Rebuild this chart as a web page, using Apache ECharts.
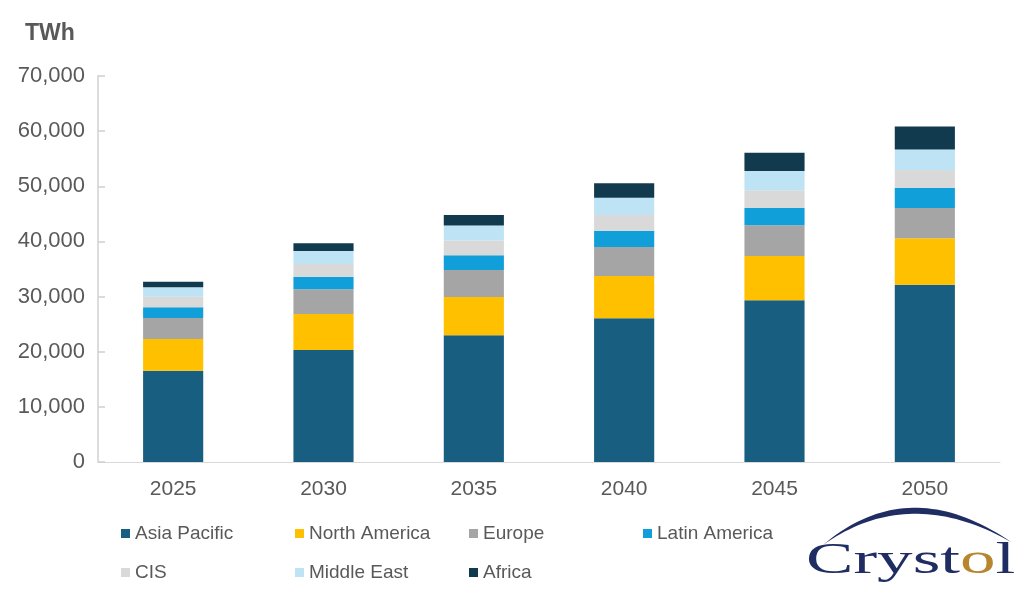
<!DOCTYPE html>
<html>
<head>
<meta charset="utf-8">
<script src="https://cdn.jsdelivr.net/npm/echarts@6/dist/echarts.min.js"></script>
<style>html,body{margin:0;padding:0;background:#fff;}#c{width:1024px;height:596px;}</style>
</head>
<body>
<div id="c"></div>
<script>
var categories = ['2025', '2030', '2035', '2040', '2045', '2050'];
var asiaPacific = [16550, 20300, 22980, 26060, 29330, 32150];
var northAmerica = [5750, 6530, 6950, 7670, 8030, 8410];
var europe = [3810, 4480, 4900, 5260, 5570, 5490];
var latinAmerica = [1945, 2290, 2670, 2960, 3190, 3680];
var cis = [1920, 2300, 2650, 2850, 3160, 3210];
var middleEast = [1700, 2360, 2720, 3140, 3500, 3750];
var africa = [1020, 1400, 1940, 2610, 3320, 4170];
var seriesNames = ['Asia Pacific', 'North America', 'Europe', 'Latin America', 'CIS', 'Middle East', 'Africa'];
var seriesData = [asiaPacific, northAmerica, europe, latinAmerica, cis, middleEast, africa];
var colors = ['#175E80', '#FFC000', '#A5A5A5', '#109FD8', '#D9D9D9', '#BEE3F4', '#113A4F'];
var yTicks = [0, 10000, 20000, 30000, 40000, 50000, 60000, 70000];

var txt = '#595959';
var font = 'Liberation Sans, Arial, sans-serif';

var legendPos = [
  [116, 519], [290, 519], [464, 519], [638, 519],
  [116, 558], [290, 558], [464, 558]
];

// logo crescent outline (quadratic curves)
function quad(p0, c, p1, n) {
  var pts = [];
  for (var i = 0; i <= n; i++) {
    var t = i / n, a = (1 - t) * (1 - t), b = 2 * (1 - t) * t, d = t * t;
    pts.push([a * p0[0] + b * c[0] + d * p1[0], a * p0[1] + b * c[1] + d * p1[1]]);
  }
  return pts;
}
var arcPts = quad([823, 545], [909, 472], [1011, 542], 40)
  .concat(quad([1011, 542], [909, 484], [823, 545], 40));

var chart = echarts.init(document.getElementById('c'));
chart.setOption({
  animation: false,
  color: colors,
  textStyle: { fontFamily: font },
  title: {
    text: 'TWh', left: 20, top: 17,
    textStyle: { fontSize: 23, fontWeight: 'bold', color: txt, fontFamily: font }
  },
  legend: seriesNames.map(function (n, i) {
    return {
      data: [n], left: legendPos[i][0], top: legendPos[i][1],
      icon: 'rect', itemWidth: 9, itemHeight: 9, itemGap: 0,
      textStyle: { fontSize: 19, color: txt, fontFamily: font },
      selectedMode: false
    };
  }),
  grid: { left: 98, right: 24, top: 76, bottom: 134, containLabel: false },
  xAxis: {
    type: 'category', data: categories,
    axisLine: { lineStyle: { color: '#d9d9d9', width: 1 } },
    axisTick: { show: false },
    axisLabel: { fontSize: 21, color: txt, margin: 17, fontFamily: font }
  },
  yAxis: {
    type: 'value', min: yTicks[0], max: yTicks[yTicks.length - 1], interval: yTicks[1] - yTicks[0],
    axisLine: { show: true, lineStyle: { color: '#d0d0d0', width: 1.5 } },
    axisTick: { show: true, inside: true, length: 7, lineStyle: { color: '#d0d0d0', width: 1.5 } },
    splitLine: { show: false },
    axisLabel: {
      fontSize: 22, color: txt, margin: 13, fontFamily: font,
      formatter: function (v) { return v.toLocaleString('en-US'); }
    }
  },
  series: seriesNames.map(function (n, i) {
    return {
      name: n, type: 'bar', stack: 'total', data: seriesData[i],
      barWidth: '40%',
      itemStyle: { color: colors[i] }
    };
  }),
  graphic: [
    {
      type: 'polygon',
      shape: { points: arcPts },
      style: { fill: '#1F2D63' }
    },
    {
      type: 'text', x: 806, y: 584, scaleX: 1.58,
      style: {
        text: 'Cryst{o|o}l',
        rich: { o: { fill: '#B8862E', fontSize: 45, fontFamily: 'Liberation Serif, serif' } },
        fill: '#1F2D63', fontSize: 45, fontFamily: 'Liberation Serif, Times New Roman, serif',
        verticalAlign: 'bottom'
      }
    }
  ]
});
</script>
</body>
</html>
